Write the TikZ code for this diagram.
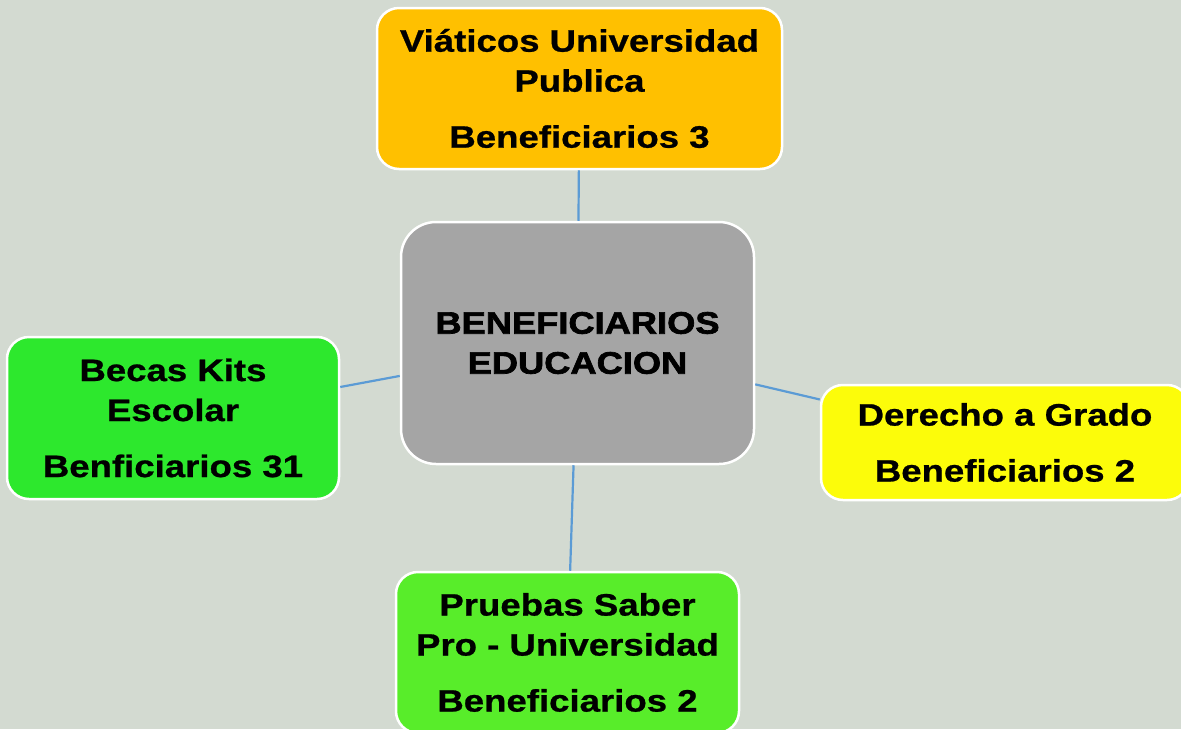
\documentclass[tikz,border=0pt]{standalone}
\usepackage{fontspec}
\setmainfont{Liberation Sans}[FakeStretch=1.18, FakeBold=0.8]
\newfontfamily\titulo{Liberation Sans Bold}[FakeStretch=1.17, FakeBold=2.2]
\usepackage{tikz}
\usetikzlibrary{positioning}

\definecolor{fondo}{HTML}{D3DAD1}
\definecolor{naranja}{HTML}{FFC000}
\definecolor{gris}{HTML}{A5A5A5}
\definecolor{verdeA}{HTML}{2DE82D}
\definecolor{verdeB}{HTML}{58ED2A}
\definecolor{amarillo}{HTML}{FCFC0A}
\definecolor{linea}{HTML}{5B9BD5}

\tikzset{
  caja/.style={draw=white, line width=2.5pt, rounded corners=22pt, inner sep=0pt,
    align=center, font=\bfseries\fontsize{31}{40}\selectfont},
  enlace/.style={draw=linea, line width=2.2pt}
}

\begin{document}
\begin{tikzpicture}[x=1pt, y=-1pt]
		% fondo y recorte
		\fill[fondo] (0,0) rectangle (1181,729);
		\clip (0,0) rectangle (1181,729);
		
		% nodo central
		\node[caja, fill=gris, rounded corners=35pt, minimum width=353pt, minimum height=242pt,
		  font=\titulo\fontsize{31}{40}\selectfont]
		  (centro) at (577.5,343) {BENEFICIARIOS\\EDUCACION};
		
		% ramas
		\node[caja, fill=naranja, minimum width=405pt, minimum height=161pt]
		  (viaticos) at (579.5,88.5) {Viáticos Universidad\\Publica\\[16pt]Beneficiarios 3};
		\node[caja, fill=verdeA, minimum width=332pt, minimum height=162pt]
		  (becas) at (173,418) {Becas Kits\\Escolar\\[16pt]Benficiarios 31};
		\node[caja, fill=amarillo, minimum width=368pt, minimum height=115pt]
		  (grado) at (1005,442.5) {Derecho a Grado\\[16pt]Beneficiarios 2};
		\node[caja, fill=verdeB, minimum width=343pt, minimum height=161pt]
		  (pruebas) at (567.5,652.5) {Pruebas Saber\\Pro - Universidad\\[16pt]Beneficiarios 2};
		
		% conectores
		\draw[enlace] (centro) -- (viaticos);
		\draw[enlace] (centro) -- (becas);
		\draw[enlace] (centro) -- (grado);
		\draw[enlace] (centro) -- (pruebas);
	\end{tikzpicture}
\end{document}
